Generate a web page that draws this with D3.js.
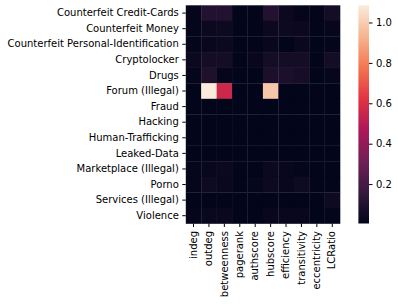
<!DOCTYPE html>
<html>
<head>
<meta charset="utf-8">
<script src="https://cdn.jsdelivr.net/npm/d3@7"></script>
<style>
  body { margin: 0; background: #fff; }
  text { font-family: "DejaVu Sans", sans-serif; font-size: 10px; fill: #000; }
</style>
</head>
<body>
<script>
// rows and columns of the heatmap
var categories = ["Counterfeit Credit-Cards", "Counterfeit Money", "Counterfeit Personal-Identification",
  "Cryptolocker", "Drugs", "Forum (Illegal)", "Fraud", "Hacking", "Human-Trafficking",
  "Leaked-Data", "Marketplace (Illegal)", "Porno", "Services (Illegal)", "Violence"];
var metrics = ["indeg", "outdeg", "betweenness", "pagerank", "authscore", "hubscore",
  "efficiency", "transitivity", "eccentricity", "LCRatio"];

// one array per row, in metric order
var rowCards    = [0.010, 0.100, 0.100, 0.005, 0.005, 0.100, 0.030, 0.010, 0.008, 0.060];
var rowMoney    = [0.010, 0.030, 0.035, 0.005, 0.005, 0.030, 0.035, 0.030, 0.005, 0.015];
var rowPersonal = [0.010, 0.020, 0.030, 0.005, 0.005, 0.020, 0.005, 0.025, 0.005, 0.010];
var rowLocker   = [0.030, 0.060, 0.060, 0.005, 0.020, 0.060, 0.060, 0.060, 0.005, 0.060];
var rowDrugs    = [0.010, 0.090, 0.010, 0.005, 0.005, 0.080, 0.080, 0.070, 0.005, 0.015];
var rowForum    = [0.005, 1.085, 0.560, 0.005, 0.005, 0.985, 0.005, 0.005, 0.005, 0.005];
var rowFraud    = [0.005, 0.005, 0.005, 0.005, 0.005, 0.005, 0.005, 0.005, 0.005, 0.005];
var rowHacking  = [0.005, 0.005, 0.005, 0.005, 0.005, 0.005, 0.005, 0.005, 0.005, 0.005];
var rowHuman    = [0.005, 0.005, 0.005, 0.005, 0.005, 0.005, 0.005, 0.005, 0.005, 0.005];
var rowLeaked   = [0.005, 0.005, 0.005, 0.005, 0.005, 0.005, 0.005, 0.005, 0.005, 0.005];
var rowMarket   = [0.010, 0.020, 0.030, 0.005, 0.005, 0.030, 0.020, 0.010, 0.005, 0.005];
var rowPorno    = [0.010, 0.040, 0.025, 0.005, 0.015, 0.035, 0.020, 0.040, 0.005, 0.005];
var rowServices = [0.005, 0.005, 0.005, 0.005, 0.005, 0.005, 0.005, 0.005, 0.005, 0.040];
var rowViolence = [0.010, 0.025, 0.025, 0.005, 0.005, 0.020, 0.020, 0.020, 0.005, 0.010];

var rowValues = [rowCards, rowMoney, rowPersonal, rowLocker, rowDrugs, rowForum, rowFraud,
  rowHacking, rowHuman, rowLeaked, rowMarket, rowPorno, rowServices, rowViolence];
var colorTicks = [0.2, 0.4, 0.6, 0.8, 1.0];

// flatten into cells
var cells = [];
rowValues.forEach(function(vals, i) {
  vals.forEach(function(v, j) {
    cells.push({ row: categories[i], col: metrics[j], value: v });
  });
});

var vmin = d3.min(cells, function(d) { return d.value; });
var vmax = d3.max(cells, function(d) { return d.value; });

// seaborn "rocket" colormap, approximated by a few stops
var rocket = ["#03051a", "#35193e", "#701f57", "#ad1759", "#e13342", "#f37651", "#f6b48f", "#faebdd"];
var rocketScale = d3.scaleLinear()
  .domain(d3.range(rocket.length).map(function(i) { return i / (rocket.length - 1); }))
  .range(rocket)
  .interpolate(d3.interpolateRgb);
var color = function(v) { return rocketScale((v - vmin) / (vmax - vmin)); };

var svg = d3.select("body").append("svg")
  .attr("width", 398)
  .attr("height", 304);

var mLeft = 185.8, mTop = 5.3, plotW = 154.2, plotH = 218.2;

var xScale = d3.scaleBand().domain(metrics).range([mLeft, mLeft + plotW]);
var yScale = d3.scaleBand().domain(categories).range([mTop, mTop + plotH]);

svg.selectAll("rect.cell")
  .data(cells)
  .enter().append("rect")
  .attr("class", "cell")
  .attr("x", function(d) { return xScale(d.col); })
  .attr("y", function(d) { return yScale(d.row); })
  .attr("width", xScale.bandwidth() + 0.3)
  .attr("height", yScale.bandwidth() + 0.3)
  .attr("fill", function(d) { return color(d.value); });

// y axis
var yAxis = svg.append("g")
  .attr("transform", "translate(" + mLeft + ",0)")
  .call(d3.axisLeft(yScale).tickSize(3.5).tickPadding(3.5));
yAxis.select(".domain").remove();
yAxis.selectAll("text").style("font-size", "10px").style("font-family", "DejaVu Sans");

// x axis, rotated labels
var xAxis = svg.append("g")
  .attr("transform", "translate(0," + (mTop + plotH) + ")")
  .call(d3.axisBottom(xScale).tickSize(3.5).tickPadding(3.5));
xAxis.select(".domain").remove();
xAxis.selectAll("text")
  .style("font-size", "10px").style("font-family", "DejaVu Sans")
  .attr("transform", "rotate(-90)")
  .attr("x", -7.5)
  .attr("y", 0)
  .attr("dy", "0.32em")
  .style("text-anchor", "end");

// colorbar
var cbX = 358.4, cbW = 10.6;
var cScale = d3.scaleLinear().domain([vmin, vmax]).range([mTop + plotH, mTop]);

var grad = svg.append("defs").append("linearGradient")
  .attr("id", "cbgrad")
  .attr("x1", 0).attr("y1", 1).attr("x2", 0).attr("y2", 0);
grad.selectAll("stop")
  .data(d3.range(0, 1.0001, 0.02))
  .enter().append("stop")
  .attr("offset", function(t) { return t; })
  .attr("stop-color", function(t) { return rocketScale(t); });

svg.append("rect")
  .attr("x", cbX)
  .attr("y", mTop)
  .attr("width", cbW)
  .attr("height", plotH)
  .attr("fill", "url(#cbgrad)");

var cAxis = svg.append("g")
  .attr("transform", "translate(" + (cbX + cbW) + ",0)")
  .call(d3.axisRight(cScale).tickValues(colorTicks).tickFormat(d3.format(".1f")).tickSize(3.5).tickPadding(3.5));
cAxis.select(".domain").remove();
cAxis.selectAll("text").style("font-size", "10px").style("font-family", "DejaVu Sans");
</script>
</body>
</html>
